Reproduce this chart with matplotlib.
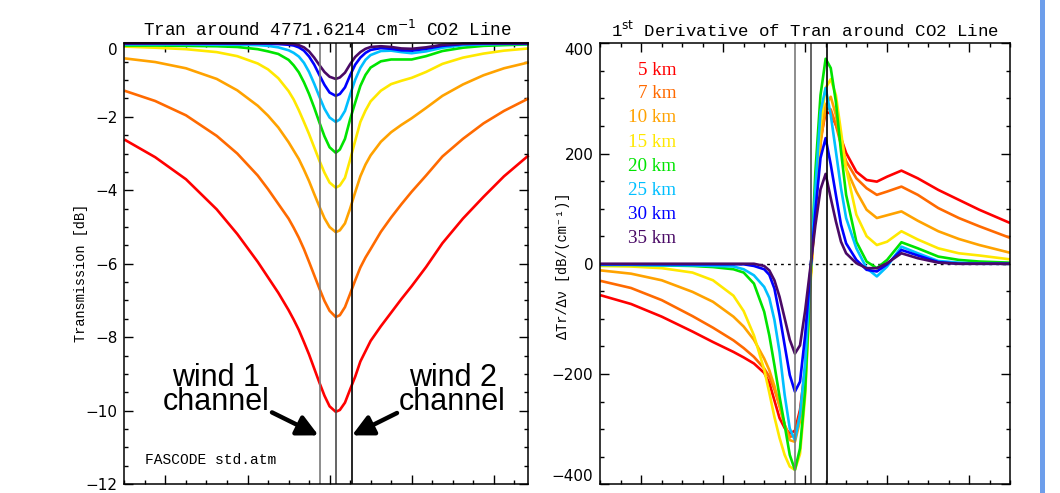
import numpy as np
import matplotlib
matplotlib.use("Agg")
import matplotlib.pyplot as plt
from matplotlib.ticker import FixedLocator, MultipleLocator, NullFormatter

# ---------------- data ----------------
altitudes = ["5 km", "7 km", "10 km", "15 km", "20 km", "25 km", "30 km", "35 km"]
colors = ["#FF0000", "#FF6A00", "#FFA200", "#FFE800", "#00E400", "#00BFFF", "#0000FF", "#4A0A66"]

# wavenumber offset from line centre 4771.6214 cm-1 (cm-1)
dnu_tran = [-0.103, -0.088, -0.073, -0.058, -0.048, -0.038, -0.033, -0.028, -0.023, -0.0205,
            -0.018, -0.0155, -0.013, -0.0105, -0.008, -0.0055, -0.003, 0.0, 0.002, 0.0045,
            0.007, 0.0095, 0.012, 0.0145, 0.017, 0.022, 0.027, 0.032, 0.037, 0.044,
            0.052, 0.062, 0.072, 0.082, 0.094]

tran_5km = [-2.62, -3.10, -3.70, -4.52, -5.19, -5.95, -6.37, -6.79, -7.26, -7.52,
            -7.80, -8.13, -8.47, -8.85, -9.23, -9.59, -9.88, -10.03, -9.98, -9.78,
            -9.42, -9.07, -8.66, -8.38, -8.10, -7.70, -7.33, -6.96, -6.61, -6.09,
            -5.44, -4.77, -4.18, -3.62, -3.05]
tran_7km = [-1.29, -1.57, -1.96, -2.52, -3.00, -3.60, -3.97, -4.37, -4.77, -5.02,
            -5.29, -5.60, -5.95, -6.31, -6.67, -7.01, -7.28, -7.45, -7.40, -7.18,
            -6.82, -6.45, -6.10, -5.83, -5.60, -5.13, -4.74, -4.38, -4.04, -3.60,
            -3.08, -2.60, -2.18, -1.84, -1.50]
tran_10km = [-0.41, -0.51, -0.68, -0.97, -1.28, -1.70, -1.97, -2.29, -2.69, -2.92,
             -3.15, -3.44, -3.75, -4.10, -4.44, -4.76, -5.00, -5.14, -5.09, -4.90,
             -4.50, -4.05, -3.62, -3.30, -3.05, -2.68, -2.42, -2.22, -2.04, -1.76,
             -1.43, -1.12, -0.87, -0.68, -0.52]
tran_15km = [-0.09, -0.12, -0.16, -0.24, -0.35, -0.55, -0.71, -0.95, -1.30, -1.53,
             -1.82, -2.14, -2.47, -2.83, -3.19, -3.52, -3.79, -3.93, -3.87, -3.66,
             -3.17, -2.65, -2.14, -1.83, -1.58, -1.29, -1.11, -1.02, -0.94, -0.78,
             -0.56, -0.39, -0.28, -0.20, -0.14]
tran_20km = [-0.06, -0.06, -0.07, -0.08, -0.10, -0.16, -0.22, -0.29, -0.45, -0.60,
             -0.79, -1.06, -1.38, -1.75, -2.15, -2.53, -2.83, -2.98, -2.89, -2.60,
             -2.07, -1.61, -1.16, -0.86, -0.66, -0.49, -0.44, -0.44, -0.44, -0.35,
             -0.21, -0.12, -0.07, -0.05, -0.03]
tran_25km = [-0.03, -0.03, -0.03, -0.04, -0.04, -0.05, -0.07, -0.11, -0.19, -0.26,
             -0.36, -0.53, -0.78, -1.10, -1.45, -1.78, -2.02, -2.14, -2.07, -1.84,
             -1.40, -0.99, -0.67, -0.45, -0.32, -0.21, -0.20, -0.24, -0.27, -0.22,
             -0.12, -0.05, -0.03, -0.02, -0.02]
tran_30km = [-0.01, -0.01, -0.01, -0.01, -0.01, -0.01, -0.01, -0.02, -0.04, -0.06,
             -0.11, -0.20, -0.36, -0.58, -0.86, -1.13, -1.34, -1.43, -1.38, -1.20,
             -0.87, -0.58, -0.39, -0.26, -0.18, -0.13, -0.15, -0.19, -0.20, -0.15,
             -0.07, -0.02, -0.01, -0.01, -0.01]
tran_35km = [0.0, 0.0, 0.0, 0.0, 0.0, 0.0, 0.0, 0.0, -0.01, -0.02,
             -0.05, -0.11, -0.22, -0.39, -0.59, -0.78, -0.91, -0.97, -0.93, -0.80,
             -0.57, -0.37, -0.24, -0.15, -0.10, -0.08, -0.10, -0.14, -0.15, -0.11,
             -0.04, -0.01, 0.0, 0.0, 0.0]

dnu_deriv = [-0.103, -0.088, -0.073, -0.058, -0.048, -0.038, -0.033, -0.028, -0.023, -0.0205,
             -0.018, -0.0155, -0.013, -0.0105, -0.008, -0.0055, -0.003, -0.0005, 0.002, 0.0045,
             0.007, 0.0095, 0.012, 0.0145, 0.017, 0.022, 0.027, 0.032, 0.037, 0.044,
             0.052, 0.062, 0.072, 0.082, 0.097]

der_5km = [-57, -73, -96, -123, -142, -160, -170, -181, -198, -216, -248, -280, -298, -308, -303, -265,
           -190, -30, 105, 225, 275, 273, 252, 228, 201, 167, 152, 149, 158, 169, 155, 134, 116, 98, 74]
der_7km = [-31, -44, -66, -95, -116, -139, -153, -169, -190, -205, -228, -258, -292, -314, -312, -272,
           -200, -30, 100, 228, 282, 280, 252, 216, 186, 155, 137, 125, 131, 140, 125, 101, 83, 68, 47]
der_10km = [-12, -18, -30, -51, -69, -96, -114, -138, -172, -193, -222, -258, -293, -320, -323, -285,
            -212, -35, 95, 216, 288, 303, 270, 216, 173, 131, 98, 83, 88, 95, 78, 59, 45, 34, 20]
der_15km = [-4, -5, -8, -16, -30, -58, -86, -130, -192, -234, -278, -316, -347, -368, -374, -345,
            -240, -45, 120, 252, 319, 335, 306, 240, 173, 89, 50, 34, 40, 59, 44, 28, 19, 15, 8]
der_20km = [-2, -2, -3, -4, -6, -10, -16, -36, -87, -130, -184, -241, -293, -347, -374, -335,
            -230, -35, 167, 306, 372, 355, 294, 204, 125, 40, 4, -8, 7, 39, 28, 13, 7, 4, 2]
der_25km = [-2, -2, -3, -3, -4, -5, -10, -21, -42, -62, -102, -160, -238, -299, -320, -274,
            -180, -25, 137, 276, 319, 270, 204, 137, 83, 28, -8, -23, -5, 31, 19, 5, 2, 0, 0]
der_30km = [-1, -1, -1, -1, -1, -1, -1, -4, -10, -20, -45, -93, -148, -202, -232, -214,
            -130, -15, 95, 192, 228, 180, 125, 71, 37, 7, -11, -14, -1, 25, 15, 3, 0, 0, 0]
der_35km = [0, 0, 0, 0, 0, 0, 0, 0, -4, -12, -30, -60, -99, -138, -163, -148,
            -85, -8, 70, 135, 163, 119, 77, 40, 19, 1, -8, -8, 1, 19, 10, 2, 0, 0, 0]

tran_series = [tran_5km, tran_7km, tran_10km, tran_15km, tran_20km, tran_25km, tran_30km, tran_35km]
deriv_series = [der_5km, der_7km, der_10km, der_15km, der_20km, der_25km, der_30km, der_35km]

channel_lines = [-0.0078, 0.0, 0.0077]
channel_colors = ["#7a7a7a", "#4a4a4a", "#000000"]

left_title = "Tran around 4771.6214 cm$^{-1}$ CO2 Line"
right_title = "1$^{\\rm st}$ Derivative of Tran around CO2 Line"
left_ylabel = "Transmission [dB]"
right_ylabel = "\u0394Tr/\u0394\u03bd [dB/(cm\u207b\u00b9)]"

# ---------------- figure ----------------
W, H = 1060, 493
fig = plt.figure(figsize=(W / 100, H / 100), dpi=100)
fig.patch.set_facecolor("white")

def fx(px):
    return px / W

def fy(py):
    return 1 - py / H

top, bot = 43.3, 484.2
axL = fig.add_axes([fx(124.4), fy(bot), (528 - 124.4) / W, (bot - top) / H])
axR = fig.add_axes([fx(600.3), fy(bot), (1010 - 600.3) / W, (bot - top) / H])

mono = ["Liberation Mono", "DejaVu Sans Mono"]

def style(ax):
    for s in ax.spines.values():
        s.set_linewidth(1.1)
    ax.tick_params(which="both", direction="in", top=True, right=True, width=1.0)
    ax.tick_params(which="major", length=6.5)
    ax.tick_params(which="minor", length=3.2)
    ax.xaxis.set_major_formatter(NullFormatter())
    ax.xaxis.set_minor_formatter(NullFormatter())
    ax.tick_params(axis="y", labelsize=11, pad=5)

xmaj = list(np.round(np.arange(-0.083, 0.1, 0.04), 4))
xmin = list(np.round(np.arange(-0.103, 0.1, 0.01), 4))

# left panel
for vals, c in zip(tran_series, colors):
    axL.plot(dnu_tran, vals, color=c, lw=1.9, clip_on=False,
             solid_joinstyle="round", solid_capstyle="butt")
for xv, c in zip(channel_lines, channel_colors):
    axL.axvline(xv, color=c, lw=1.2)
axL.set_xlim(-0.103, 0.0937)
axL.set_ylim(-12, 0)
axL.xaxis.set_major_locator(FixedLocator(xmaj))
axL.xaxis.set_minor_locator(FixedLocator(xmin))
axL.yaxis.set_minor_locator(MultipleLocator(0.5))
style(axL)
axL.set_yticks([-12, -10, -8, -6, -4, -2, 0])
labsL = axL.set_yticklabels(["\u221212", "\u221210", "\u22128", "\u22126", "\u22124", "\u22122", "0"],
                            family="DejaVu Sans")
labsL[-1].set_va("top")
axL.set_ylabel(left_ylabel, family=mono, fontsize=9.8)
axL.yaxis.set_label_coords((88.5 - 124.4) / 403.6, (bot - 273) / (bot - top))

# right panel
for vals, c in zip(deriv_series, colors):
    axR.plot(dnu_deriv, vals, color=c, lw=1.9, solid_joinstyle="round", solid_capstyle="butt")
for xv, c in zip(channel_lines, channel_colors):
    axR.axvline(xv, color=c, lw=1.2)
axR.axhline(0, color="black", lw=1.0, ls=(0, (2, 3)), zorder=0.5)
axR.set_xlim(-0.103, 0.097)
axR.set_ylim(-400, 400)
axR.xaxis.set_major_locator(FixedLocator(xmaj))
axR.xaxis.set_minor_locator(FixedLocator(xmin))
axR.yaxis.set_minor_locator(MultipleLocator(50))
style(axR)
axR.set_yticks([-400, -200, 0, 200, 400])
labsR = axR.set_yticklabels(["\u2212400", "\u2212200", "0", "200", "400"], family="DejaVu Sans")
labsR[-1].set_va("top")
labsR[0].set_va("bottom")
axR.set_ylabel(right_ylabel, family=mono, fontsize=9.8)
axR.yaxis.set_label_coords((570 - 600.3) / 409.7, (bot - 265.5) / (bot - top))

# titles
fig.text(fx(327), fy(30), left_title, family=mono, fontsize=12.7, ha="center", va="center")
fig.text(fx(805), fy(30), right_title, family=mono, fontsize=12.5, ha="center", va="center")

# altitude labels
leg_y = [70.3, 94.0, 118.0, 142.5, 166.5, 190.5, 214.7, 239.0]
for lab, c, yy in zip(altitudes, colors, leg_y):
    fig.text(fx(676), fy(yy), lab, color=c, family=["Liberation Serif", "DejaVu Serif"],
             fontsize=13.8, ha="right", va="center")

# annotations
sans = ["Liberation Sans", "DejaVu Sans"]
fig.text(fx(216), fy(409.7), "wind 1\nchannel", family=sans, fontsize=22, ha="center",
         va="baseline", multialignment="center", linespacing=0.74)
fig.text(fx(452.6), fy(409.7), "wind 2\nchannel", family=sans, fontsize=22, ha="center",
         va="baseline", multialignment="center", linespacing=0.74)
arrow_kw = dict(arrowstyle="-|>,head_length=0.9,head_width=0.45", lw=3.2, color="black",
                shrinkA=0, shrinkB=0)
fig.add_artist(matplotlib.patches.FancyArrowPatch((fx(272), fy(412.4)), (fx(318.5), fy(435.4)),
                                                  transform=fig.transFigure, mutation_scale=14, **arrow_kw))
fig.add_artist(matplotlib.patches.FancyArrowPatch((fx(397), fy(413)), (fx(352), fy(435.4)),
                                                  transform=fig.transFigure, mutation_scale=14, **arrow_kw))

fig.text(fx(145), fy(460), "FASCODE std.atm", family=mono, fontsize=10.5, ha="left", va="center")

# slide edge bar on the right
fig.add_artist(matplotlib.patches.Rectangle((fx(1040), 0), 5 / W, 1, transform=fig.transFigure,
                                            facecolor="#6D9EEB", edgecolor="none"))

fig.savefig("out.png", dpi=100, facecolor="white")
